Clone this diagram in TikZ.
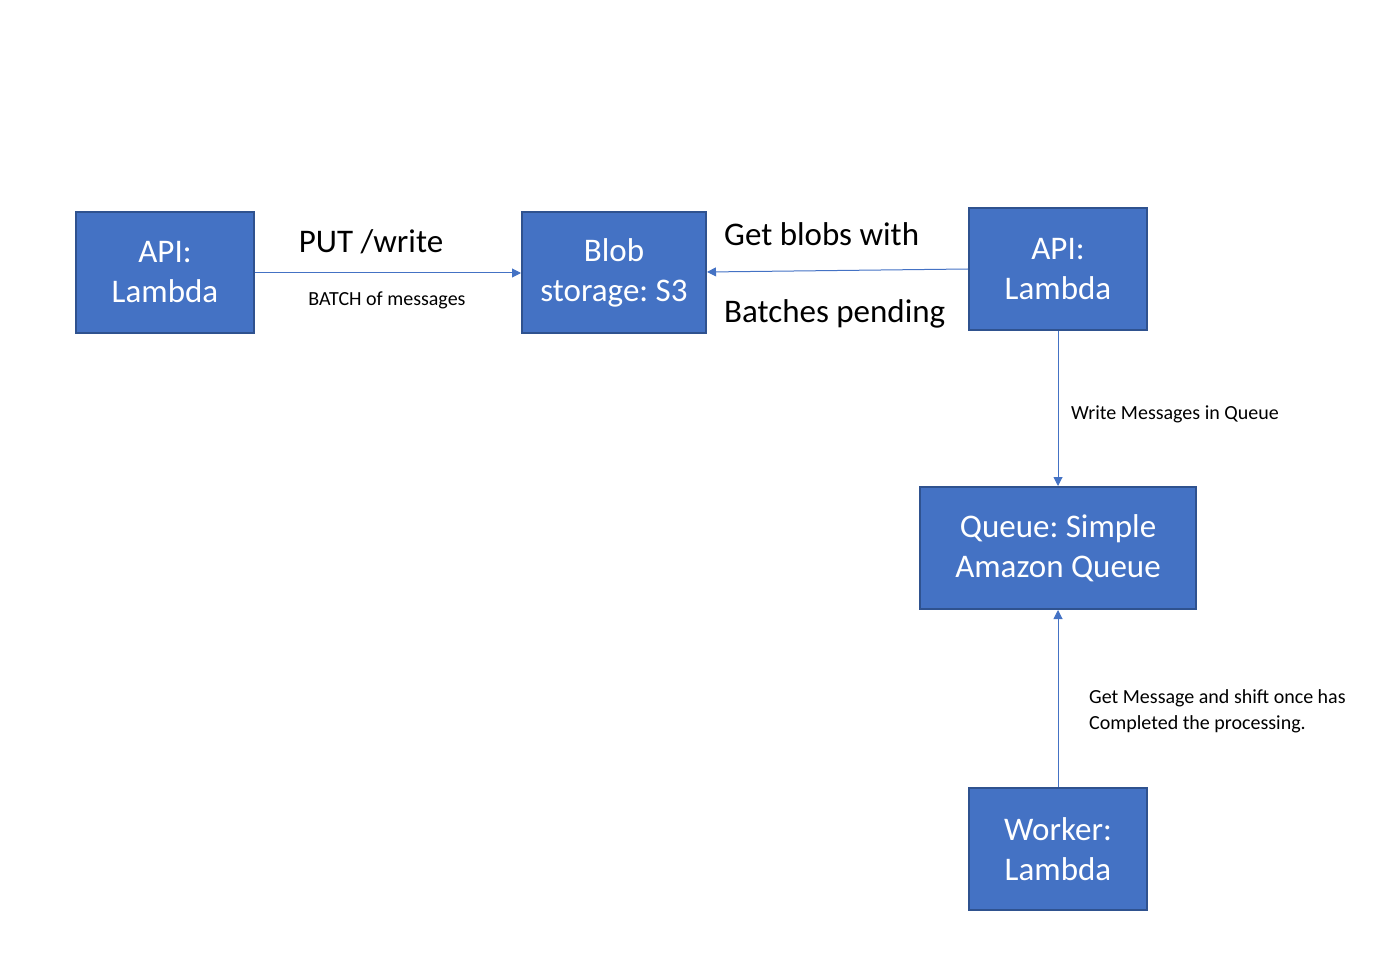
\documentclass[tikz,border=0pt]{standalone}
\usepackage{fontspec}
\setmainfont{Carlito}
\frenchspacing
\definecolor{office}{RGB}{68, 114, 196}
\definecolor{officeedge}{RGB}{47, 82, 143}
\usetikzlibrary{arrows.meta}
\tikzset{
	box/.style={draw=officeedge, line width=2pt, fill=office, text=white, align=center, inner sep=0pt, font=\fontsize{33}{40}\selectfont},
	link/.style={draw=office, line width=1pt, -{Triangle[length=9pt,width=9pt]}},
	biglabel/.style={font=\fontsize{33}{40}\selectfont, inner sep=0pt},
	smalllabel/.style={font=\fontsize{20}{26}\selectfont, inner sep=0pt, align=left}
}

\begin{document}
\begin{tikzpicture}[x=1pt, y=-1pt]
	\useasboundingbox (0,0) rectangle (1395,976);
	
	\node[box, minimum width=178pt, minimum height=121pt] (api) at (165,272.5) {API:\\Lambda};
	\node[box, minimum width=184pt, minimum height=121pt] (blob) at (614,272.5) {Blob\\storage: S3};
	\node[box, minimum width=178pt, minimum height=122pt] (apitwo) at (1058,269) {API:\\Lambda};
	\node[box, minimum width=276pt, minimum height=122pt] (queue) at (1058,548) {Queue: Simple\\Amazon Queue};
	\node[box, minimum width=178pt, minimum height=122pt] (worker) at (1058,849) {Worker:\\Lambda};
	
	\node[biglabel] (put) at (371,242) {PUT /write};
	\node[smalllabel] (batch) at (387,300) {BATCH of messages};
	\node[biglabel, anchor=west] (getblobs) at (724,234) {Get blobs with};
	\node[biglabel, anchor=west] (pending) at (724,314) {Batches pending};
	\node[smalllabel, anchor=west] (writemsg) at (1071,414) {Write Messages in Queue};
	\node[smalllabel, anchor=west] (getmsg) at (1089,711) {Get Message and shift once has\\Completed the processing.};
	
	\draw[link] (api.east |- 0,273) -- (blob.west |- 0,273);
	\draw[link] (apitwo.west) -- (blob.east |- 0,272);
	\draw[link] (apitwo.south) -- (queue.north);
	\draw[link] (worker.north) -- (queue.south);
\end{tikzpicture}
\end{document}
